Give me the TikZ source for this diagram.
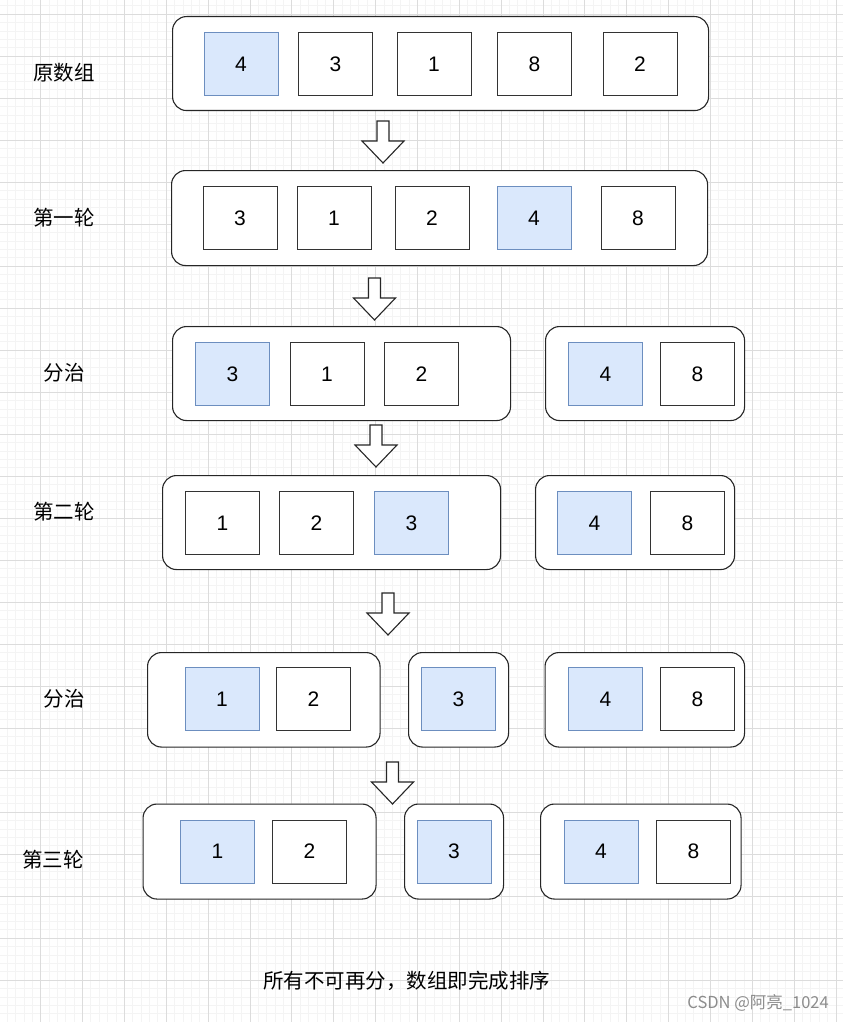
\documentclass[tikz,border=0pt]{standalone}
\usepackage{fontspec}
\setmainfont{Liberation Sans}
\newfontfamily\cjk{Noto Sans CJK SC}
\definecolor{hifill}{HTML}{DAE8FC}
\definecolor{histroke}{HTML}{6C8EBF}
\definecolor{gridminor}{HTML}{F4F4F4}
\definecolor{gridmajor}{HTML}{DCDCDC}
\definecolor{cellline}{HTML}{333333}
\tikzset{
  cell/.style={draw=cellline, line width=1.1pt, fill=white, minimum width=74pt, minimum height=63pt,
    inner sep=0pt, anchor=north west, font=\fontsize{21}{21}\selectfont},
  hicell/.style={cell, draw=histroke, fill=hifill},
  group/.style={draw=black!85, line width=1.1pt, fill=white, rounded corners=14pt, inner sep=0pt,
    anchor=north west},
  rowlabel/.style={font=\cjk\fontsize{20.5}{20.5}\selectfont, inner sep=0pt},
  barrow/.style={draw=black!85, line width=1.1pt, fill=white, line join=miter},
}
\newcommand\blockarrow[3]{%
  \coordinate (#1) at (#2,#3);
  \draw[barrow] ([xshift=-6pt]#1) -- ([xshift=6pt]#1) -- ([xshift=6pt,yshift=-20pt]#1)
    -- ([xshift=21pt,yshift=-20pt]#1) -- ([yshift=-42pt]#1) -- ([xshift=-21pt,yshift=-20pt]#1)
    -- ([xshift=-6pt,yshift=-20pt]#1) -- cycle;}
\begin{document}
\begin{tikzpicture}[x=1pt,y=-1pt]
\useasboundingbox (0,0) rectangle (843,1022);
\fill[white] (0,0) rectangle (843,1022);
% grid
\foreach \i in {-5,...,101} {
  \draw[gridminor, line width=0.9pt] ({40.7+\i*8.372},0) -- ({40.7+\i*8.372},1022);
}
\foreach \j in {-2,...,122} {
  \draw[gridminor, line width=0.9pt] (0,{14.3+\j*8.4}) -- (843,{14.3+\j*8.4});
}
\foreach \i in {-1,...,20} {
  \draw[gridmajor, line width=0.9pt] ({40.7+\i*41.86},0) -- ({40.7+\i*41.86},1022);
}
\foreach \j in {0,...,24} {
  \draw[gridmajor, line width=0.9pt] (0,{14.3+\j*42}) -- (843,{14.3+\j*42});
}

% row labels
\node[rowlabel] (l1) at (64,73) {原数组};
\node[rowlabel] (l2) at (64,218) {第一轮};
\node[rowlabel] (l3) at (64,373) {分治};
\node[rowlabel] (l4) at (64,512) {第二轮};
\node[rowlabel] (l5) at (64,699) {分治};
\node[rowlabel] (l6) at (53,860) {第三轮};

% row 1
\node[group, minimum width=536pt, minimum height=94pt] (g1) at (172,16) {};
\node[hicell] (r1a) at (203.5,32) {4};
\node[cell] (r1b) at (298,32) {3};
\node[cell] (r1c) at (396.5,32) {1};
\node[cell] (r1d) at (497,32) {8};
\node[cell] (r1e) at (602.5,32) {2};
\blockarrow{a1}{383}{121}

% row 2
\node[group, minimum width=536pt, minimum height=95pt] (g2) at (171,170) {};
\node[cell] (r2a) at (202.5,186) {3};
\node[cell] (r2b) at (296.5,186) {1};
\node[cell] (r2c) at (394.5,186) {2};
\node[hicell] (r2d) at (496.5,186) {4};
\node[cell] (r2e) at (600.5,186) {8};
\blockarrow{a2}{374.5}{278}

% row 3
\node[group, minimum width=338pt, minimum height=94pt] (g3a) at (172,326) {};
\node[hicell] (r3a) at (195,342) {3};
\node[cell] (r3b) at (289.5,342) {1};
\node[cell] (r3c) at (384,342) {2};
\node[group, minimum width=199pt, minimum height=94pt] (g3b) at (545,326) {};
\node[hicell] (r3d) at (568,342) {4};
\node[cell] (r3e) at (660,342) {8};
\blockarrow{a3}{376}{425}

% row 4
\node[group, minimum width=338pt, minimum height=94pt] (g4a) at (162,475) {};
\node[cell] (r4a) at (185,491) {1};
\node[cell] (r4b) at (279,491) {2};
\node[hicell] (r4c) at (374,491) {3};
\node[group, minimum width=199pt, minimum height=94pt] (g4b) at (535,475) {};
\node[hicell] (r4d) at (557,491) {4};
\node[cell] (r4e) at (650,491) {8};
\blockarrow{a4}{388}{593}

% row 5
\node[group, minimum width=232.5pt, minimum height=94.5pt] (g5a) at (147,652) {};
\node[hicell] (r5a) at (184.5,667) {1};
\node[cell] (r5b) at (276,667) {2};
\node[group, minimum width=100pt, minimum height=94.5pt] (g5b) at (408,652) {};
\node[hicell] (r5c) at (421,667) {3};
\node[group, minimum width=199.5pt, minimum height=94.5pt] (g5c) at (544.5,652) {};
\node[hicell] (r5d) at (568,667) {4};
\node[cell] (r5e) at (660,667) {8};
\blockarrow{a5}{392.5}{762}

% row 6
\node[group, minimum width=233pt, minimum height=95pt] (g6a) at (142.5,803.5) {};
\node[hicell] (r6a) at (180,819.5) {1};
\node[cell] (r6b) at (272,819.5) {2};
\node[group, minimum width=99pt, minimum height=95pt] (g6b) at (404,803.5) {};
\node[hicell] (r6c) at (416.5,819.5) {3};
\node[group, minimum width=200.5pt, minimum height=95pt] (g6c) at (540,803.5) {};
\node[hicell] (r6d) at (563.5,819.5) {4};
\node[cell] (r6e) at (656,819.5) {8};

% bottom text
\node[rowlabel] (concl) at (406.5,981) {所有不可再分，数组即完成排序};
\node[font=\cjk\fontsize{16.5}{16.5}\selectfont, text=black!45, anchor=east, inner sep=0pt] (wm) at (829,1003) {CSDN @阿亮\_1024};
\end{tikzpicture}
\end{document}
